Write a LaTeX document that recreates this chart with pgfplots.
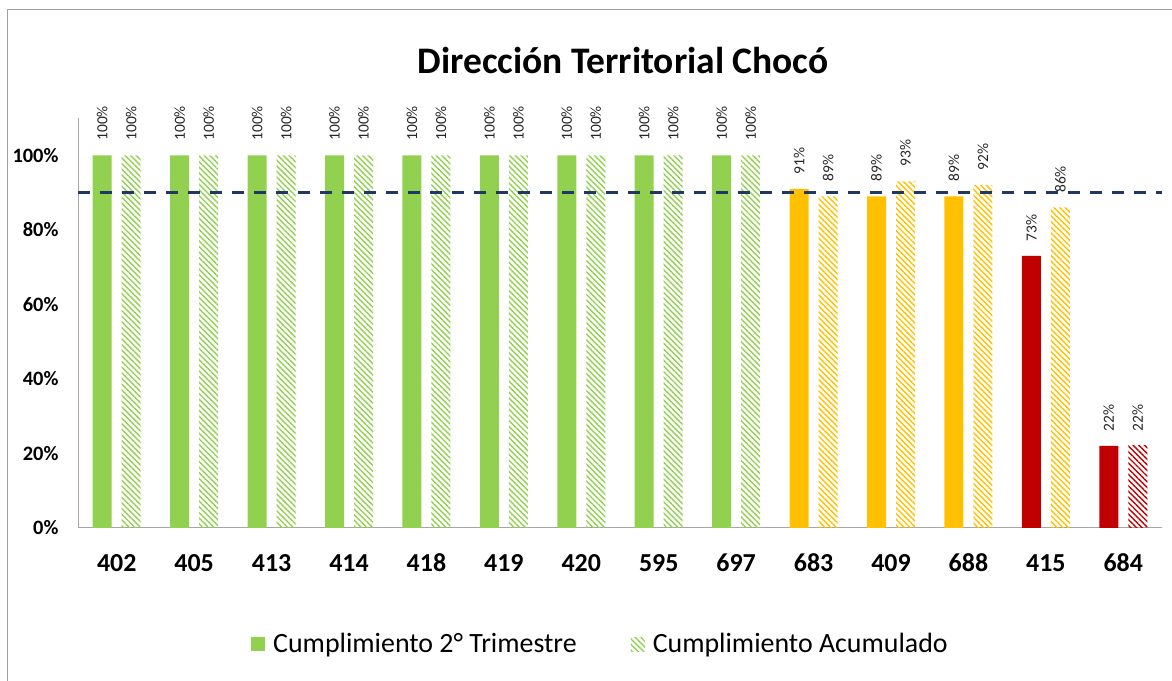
\documentclass[border=0pt]{standalone}
\usepackage{pgfplots}
\pgfplotsset{compat=1.18}
\usetikzlibrary{patterns.meta}
\usepackage{fontspec}
\setmainfont{Carlito}
\definecolor{cgreen}{HTML}{92D050}
\definecolor{cyellow}{HTML}{FFC000}
\definecolor{cred}{HTML}{C00000}
\definecolor{cnavy}{HTML}{1F3864}
\definecolor{axgray}{HTML}{A6A6A6}
\definecolor{framegray}{HTML}{A0A0A0}
\definecolor{lblgray}{HTML}{262626}
\begin{document}
\begin{tikzpicture}[x=1bp,y=1bp]
\path[use as bounding box] (0,0) rectangle (1172,681);
\draw[color=framegray, line width=1bp] (7,0) -- (7,671) -- (1172,671);
\node[font=\bfseries\fontsize{37.6}{37.6}\selectfont, anchor=base] at (623,607) {Dirección Territorial Chocó};
\begin{axis}[
  at={(78bp,153bp)}, anchor=south west, scale only axis,
  width=1084bp, height=410bp,
  xmin=-0.5, xmax=13.5, ymin=0, ymax=110,
  ybar, bar width=19bp,
  axis x line*=bottom, axis y line*=left,
  axis line style={axgray, line width=1bp, -},
  xtick={0,...,13},
  xticklabels={402,405,413,414,418,419,420,595,697,683,409,688,415,684},
  ytick={0,20,...,100},
  yticklabel={\pgfmathprintnumber{\tick}\%},
  major tick length=0pt,
  /pgf/number format/assume math mode=true,
  yticklabel style={font=\bfseries\fontsize{20.5}{20.5}\selectfont, xshift=-16bp},
  xticklabel style={font=\bfseries\fontsize{26}{26}\selectfont, anchor=base, yshift=-44bp},
  nodes near coords={\fontsize{15.5}{15.5}\selectfont\pgfmathprintnumber{\pgfplotspointmeta}\%},
  every node near coord/.append style={rotate=90, anchor=west, text=lblgray, inner xsep=14.5bp},
  legend style={draw=none, fill=none, legend columns=2, at={(0.482,-0.283)}, anchor=center,
    font=\fontsize{28}{28}\selectfont,
    /tikz/every odd column/.append style={column sep=6bp},
    /tikz/every even column/.append style={column sep=52bp}},
  legend image code/.code={\path[#1, draw=none] (0bp,-7bp) rectangle (14bp,7bp);},
  clip=false,
]
\addplot[fill=cgreen, draw=none, bar shift=-14.5bp] coordinates {(0,100) (1,100) (2,100) (3,100) (4,100) (5,100) (6,100) (7,100) (8,100)};
\addplot[pattern={Lines[angle=-45, distance=4bp, line width=1.4bp]}, pattern color=cgreen, draw=none, bar shift=14.5bp] coordinates {(0,100) (1,100) (2,100) (3,100) (4,100) (5,100) (6,100) (7,100) (8,100)};
\addplot[fill=cyellow, draw=none, bar shift=-14.5bp, forget plot] coordinates {(9,91) (10,89) (11,89)};
\addplot[fill=cred, draw=none, bar shift=-14.5bp, forget plot] coordinates {(12,73) (13,22)};
\addplot[pattern={Lines[angle=-45, distance=4bp, line width=1.4bp]}, pattern color=cyellow, draw=none, bar shift=14.5bp, forget plot] coordinates {(9,89) (10,93) (11,92) (12,86)};
\addplot[pattern={Lines[angle=-45, distance=4bp, line width=1.4bp]}, pattern color=cred, draw=none, bar shift=14.5bp, forget plot] coordinates {(13,22)};
\addplot[sharp plot, cnavy, line width=3bp, dash pattern=on 12bp off 10bp, nodes near coords={}, forget plot] coordinates {(-0.5,90) (13.5,90)};
\legend{Cumplimiento 2° Trimestre, Cumplimiento Acumulado}
\end{axis}
\end{tikzpicture}
\end{document}
